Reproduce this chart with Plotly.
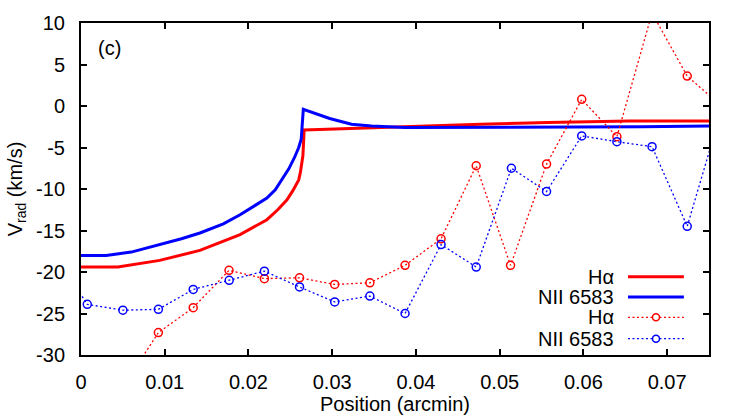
import plotly.graph_objects as go

# Model curves (solid)
model_ha_pos = [0.0, 0.0044, 0.0094, 0.0142, 0.019, 0.0222, 0.0235, 0.0246, 0.0253, 0.026, 0.0262,
                0.0265, 0.0266, 0.02665, 0.0294, 0.0351, 0.0409, 0.0477, 0.0558, 0.0654, 0.075]
model_ha_val = [-19.4, -19.4, -18.6, -17.4, -15.5, -13.7, -12.5, -11.3, -10.2, -8.9, -8.0,
                -6.0, -4.0, -2.9, -2.8, -2.6, -2.4, -2.2, -2.0, -1.8, -1.8]

model_nii_pos = [0.0, 0.003, 0.006, 0.0094, 0.012, 0.0142, 0.017, 0.019, 0.0205, 0.0222, 0.0232,
                 0.024, 0.0248, 0.0255, 0.026, 0.0263, 0.02655, 0.0297, 0.0323, 0.0347, 0.0387,
                 0.067, 0.075]
model_nii_val = [-18.0, -18.0, -17.6, -16.7, -16.0, -15.3, -14.2, -13.1, -12.2, -11.1, -10.1,
                 -8.9, -7.6, -6.2, -5.0, -4.0, -0.4, -1.5, -2.2, -2.4, -2.6,
                 -2.5, -2.4]

# Observed data (dotted with circles)
obs_ha_pos = [0.0050, 0.00924, 0.0134, 0.01768, 0.0219, 0.0261, 0.0303, 0.0345, 0.0387, 0.0430,
              0.0472, 0.0513, 0.0556, 0.0598, 0.0640, 0.0682, 0.0724, 0.0766]
obs_ha_val = [-33.9, -27.3, -24.3, -19.8, -20.8, -20.7, -21.5, -21.3, -19.2, -16.0,
              -7.2, -19.2, -7.0, 0.8, -3.7, 11.2, 3.6, -0.1]

obs_nii_pos = [-0.0034, 0.00075, 0.0050, 0.00924, 0.0134, 0.0177, 0.0219, 0.0261, 0.0303, 0.0345,
               0.0387, 0.0430, 0.0472, 0.0514, 0.0556, 0.0598, 0.0640, 0.0682, 0.0724, 0.0766]
obs_nii_val = [-17.5, -23.9, -24.6, -24.5, -22.1, -21.0, -19.9, -21.8, -23.6, -22.9,
               -25.0, -16.7, -19.4, -7.5, -10.3, -3.6, -4.3, -4.9, -14.5, -0.1]

x_ticks = [0, 0.01, 0.02, 0.03, 0.04, 0.05, 0.06, 0.07]
x_tick_labels = ["0", "0.01", "0.02", "0.03", "0.04", "0.05", "0.06", "0.07"]
y_ticks = [-30, -25, -20, -15, -10, -5, 0, 5, 10]
y_tick_labels = ["-30", "-25", "-20", "-15", "-10", "-5", "0", "5", "10"]

legend_labels = ["Hα", "NII 6583", "Hα", "NII 6583"]

RED = "#ff0000"
BLUE = "#0000ff"
FONT = "Liberation Sans, Arial, sans-serif"
FS = 20

fig = go.Figure()
fig.add_trace(go.Scatter(x=model_ha_pos, y=model_ha_val, mode="lines",
                         line=dict(color=RED, width=3), name=legend_labels[0]))
fig.add_trace(go.Scatter(x=model_nii_pos, y=model_nii_val, mode="lines",
                         line=dict(color=BLUE, width=3), name=legend_labels[1]))
fig.add_trace(go.Scatter(x=obs_ha_pos, y=obs_ha_val, mode="lines+markers",
                         line=dict(color=RED, width=1.3, dash="2px,2.5px"),
                         marker=dict(symbol="circle-open", size=8, color=RED, line=dict(width=1.5)),
                         name=legend_labels[2]))
fig.add_trace(go.Scatter(x=obs_nii_pos, y=obs_nii_val, mode="lines+markers",
                         line=dict(color=BLUE, width=1.3, dash="2px,2.5px"),
                         marker=dict(symbol="circle-open", size=8, color=BLUE, line=dict(width=1.5)),
                         name=legend_labels[3]))

# Manual gnuplot-style legend (text on left, sample on right)
rows_y = [0.2358, 0.1747, 0.1135, 0.0491]
colors = [RED, BLUE, RED, BLUE]
styles = ["solid", "solid", "dot", "dot"]
annotations = []
shapes = []
for lab, yy, col, st in zip(legend_labels, rows_y, colors, styles):
    annotations.append(dict(x=0.852, y=yy, xref="paper", yref="paper", text=lab,
                            showarrow=False, xanchor="right", yanchor="middle",
                            font=dict(family=FONT, size=FS, color="black")))
    if st == "solid":
        shapes.append(dict(type="line", xref="paper", yref="paper", x0=0.871, x1=0.960,
                           y0=yy, y1=yy, line=dict(color=col, width=3)))
    else:
        shapes.append(dict(type="line", xref="paper", yref="paper", x0=0.871, x1=0.960,
                           y0=yy, y1=yy, line=dict(color=col, width=1.3, dash="2px,2.5px")))
        shapes.append(dict(type="circle", xref="paper", yref="paper",
                           xsizemode="pixel", ysizemode="pixel",
                           xanchor=0.9156, yanchor=yy, x0=-3.5, x1=3.5, y0=-3.5, y1=3.5,
                           line=dict(color=col, width=1.5), fillcolor="white"))

annotations.append(dict(x=0.045, y=0.925, xref="paper", yref="paper", text="(c)",
                        showarrow=False, xanchor="center", yanchor="middle",
                        font=dict(family=FONT, size=FS, color="black")))

fig.update_layout(
    width=747, height=417,
    margin=dict(l=81, r=38, t=23, b=62, autoexpand=False),
    paper_bgcolor="white", plot_bgcolor="white",
    showlegend=False,
    font=dict(family=FONT, size=FS, color="black"),
    annotations=annotations, shapes=shapes,
)
fig.update_xaxes(range=[0, 0.075], tickvals=x_ticks, ticktext=x_tick_labels,
                 showgrid=False, zeroline=False, showline=True, linecolor="black", linewidth=2,
                 mirror="ticks", ticks="inside", ticklen=6, tickwidth=2, tickcolor="black",
                 ticklabelstandoff=8,
                 title=dict(text="Position (arcmin)", standoff=2, font=dict(size=FS)))
fig.update_yaxes(range=[-30, 10], tickvals=y_ticks, ticktext=y_tick_labels,
                 showgrid=False, zeroline=False, showline=True, linecolor="black", linewidth=2,
                 mirror="ticks", ticks="inside", ticklen=6, tickwidth=2, tickcolor="black",
                 ticklabelstandoff=10,
                 title=dict(text="V<sub>rad</sub> (km/s)", standoff=8, font=dict(size=FS)))

fig.write_html("out.html", config={"displayModeBar": False},
               post_script="document.body.style.margin='0';")
